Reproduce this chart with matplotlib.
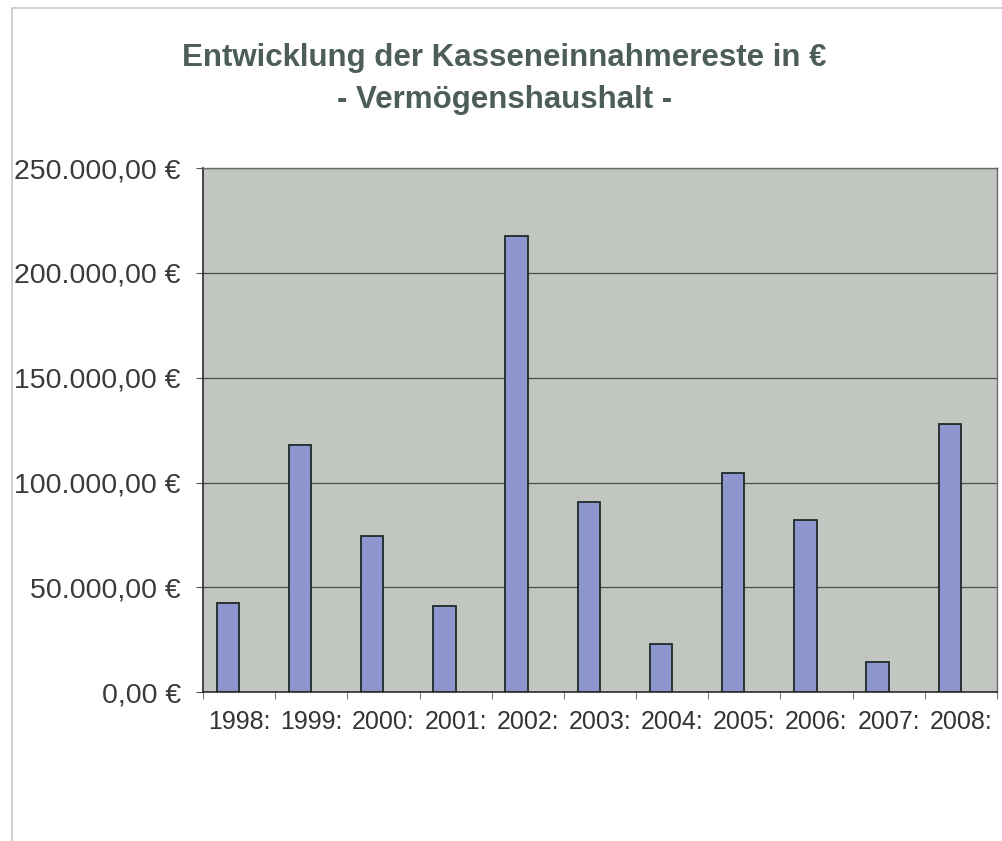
import matplotlib
matplotlib.use("Agg")
import matplotlib.pyplot as plt
from matplotlib.patches import Rectangle
from matplotlib.ticker import FuncFormatter, MultipleLocator

years = ["1998:", "1999:", "2000:", "2001:", "2002:", "2003:", "2004:", "2005:", "2006:", "2007:", "2008:"]
values = [42500, 118000, 74500, 41000, 217500, 90500, 23000, 104500, 82000, 14500, 128000]
title_lines = ["Entwicklung der Kasseneinnahmereste in €", "- Vermögenshaushalt -"]

plt.rcParams['font.family'] = ['Liberation Sans', 'DejaVu Sans']

fig = plt.figure(figsize=(10.03, 8.41), dpi=100)
fig.patch.set_facecolor('white')
fig.patches.append(Rectangle((0.012, -0.01), 1.0, 1.0, transform=fig.transFigure,
                             fill=False, edgecolor='#c8c8c8', linewidth=1.2))

ax = fig.add_axes([0.2024, 0.177, 0.7916, 0.623])
ax.set_facecolor('#c2c6c0')

bar_w = 0.31
x = list(range(len(years)))
# clustered layout: visible series sits in the left half of each category
ax.bar([i - bar_w / 2 for i in x], values, width=bar_w, color='#8f95cf',
       edgecolor='#1e2a28', linewidth=1.3, zorder=3)

ax.set_xlim(-0.5, len(years) - 0.5)
ax.set_ylim(0, 250000)
ax.yaxis.set_major_locator(MultipleLocator(50000))

def fmt(v, pos):
    s = f"{v:,.2f}".replace(",", "X").replace(".", ",").replace("X", ".")
    return s + " €"
ax.yaxis.set_major_formatter(FuncFormatter(fmt))

ax.grid(axis='y', color='#4a4f4c', linewidth=0.9, zorder=1)
ax.set_axisbelow(True)

ax.set_xticks(x)
ax.set_xticklabels(years)
ax.set_xticks([i - 0.5 for i in range(len(years) + 1)], minor=True)
ax.tick_params(axis='x', which='major', length=0, pad=13, labelsize=18, labelcolor='#333333')
ax.tick_params(axis='x', which='minor', length=5, color='#555555', direction='out')
ax.tick_params(axis='y', length=5, color='#555555', pad=11, labelsize=20.5, labelcolor='#3a3a3a')

for side in ['left', 'bottom']:
    ax.spines[side].set_color('#2a2a2a')
    ax.spines[side].set_linewidth(1.2)
for side in ['top', 'right']:
    ax.spines[side].set_color('#6a6a6a')
    ax.spines[side].set_linewidth(1.0)

fig.text(0.503, 0.931, title_lines[0], ha='center', va='center', fontsize=22.5,
         fontweight='bold', color='#4d5e58')
fig.text(0.503, 0.881, title_lines[1], ha='center', va='center', fontsize=22.5,
         fontweight='bold', color='#4d5e58')

fig.savefig("out.png", dpi=100)
